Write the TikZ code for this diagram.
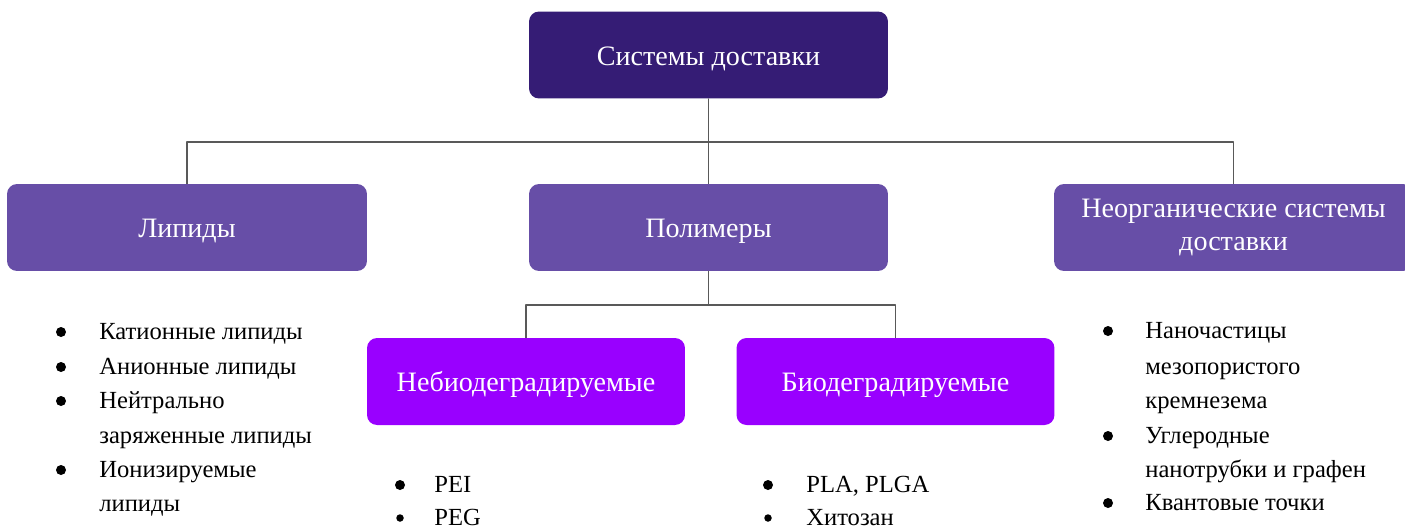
\documentclass[tikz,border=0pt]{standalone}
\usepackage{fontspec}
\setmainfont{Liberation Serif}
\definecolor{darkviolet}{HTML}{351C75}
\definecolor{midviolet}{HTML}{674EA7}
\definecolor{brightviolet}{HTML}{9900FF}
\definecolor{linkgray}{HTML}{595959}
\tikzset{
  box/.style={rectangle, rounded corners=0.2cm, draw=none, text=white,
    minimum width=7.18cm, minimum height=1.74cm, inner sep=0pt,
    font=\fontsize{16}{19}\selectfont, text height=13pt, text depth=1.6pt},
  subbox/.style={box, fill=brightviolet, minimum width=6.36cm},
  link/.style={draw=linkgray, line width=0.6pt},
  item/.style={anchor=base west, inner sep=0pt, font=\fontsize{14}{19.6}\selectfont},
  dot/.style={circle, fill=black, inner sep=0pt, minimum size=0.2cm},
  smalldot/.style={dot, minimum size=0.15cm}
}
\begin{document}
\begin{tikzpicture}[x=0.02cm, y=-0.02cm, line join=round, line cap=round]
	\useasboundingbox (0,0) rectangle (1405,528);
	% top level
	\node[box, fill=darkviolet] (top) at (708.5,55) {Системы доставки};
	\node[box, fill=midviolet, minimum width=7.2cm] (lip) at (187,227.5) {Липиды};
	\node[box, fill=midviolet] (poly) at (708.5,227.5) {Полимеры};
	\node[box, fill=midviolet, align=center, text height=, text depth=] (inorg) at (1233.5,227.5)
		{Неорганические системы\\доставки};
	% polymers
	\node[subbox] (nebio) at (526,381.5) {Небиодеградируемые};
	\node[subbox] (bio) at (895.5,381.5) {Биодеградируемые};
	% connectors
	\coordinate (bus) at (708.5,142);
	\coordinate (pbus) at (708.5,305);
	\draw[link] (top.south) -- (poly.north);
	\draw[link] (lip.north) |- (bus) -| (inorg.north);
	\draw[link] (poly.south) -- (pbus);
	\draw[link] (nebio.north) |- (pbus) -| (bio.north);
	% lists
	\foreach \y/\t/\b [count=\i] in {339/Катионные липиды/1, 374/Анионные липиды/1,
		408/Нейтрально/1, 443/заряженные липиды/0, 477/Ионизируемые/1, 511/липиды/0}{
		\node[item] (lip\i) at (99,\y) {\t};
		\ifnum\b=1 \node[dot] (lipdot\i) at (61,\y-7) {}; \fi
	}
	\foreach \y/\t/\b [count=\i] in {338/Наночастицы/1, 374/мезопористого/0,
		408/кремнезема/0, 443/Углеродные/1, 477/нанотрубки и графен/0, 510/Квантовые точки/1}{
		\node[item] (inorg\i) at (1145,\y) {\t};
		\ifnum\b=1 \node[dot] (inorgdot\i) at (1108,\y-7) {}; \fi
	}
	\foreach \y/\t/\s [count=\i] in {492/PEI/dot, 525/PEG/smalldot}{
		\node[item] (nebio\i) at (434,\y) {\t};
		\node[\s] (nebiodot\i) at (400,\y-7) {};
	}
	\foreach \y/\t/\s [count=\i] in {492/{PLA, PLGA}/dot, 525/Хитозан/smalldot}{
		\node[item] (bio\i) at (806,\y) {\t};
		\node[\s] (biodot\i) at (768,\y-7) {};
	}
\end{tikzpicture}
\end{document}
